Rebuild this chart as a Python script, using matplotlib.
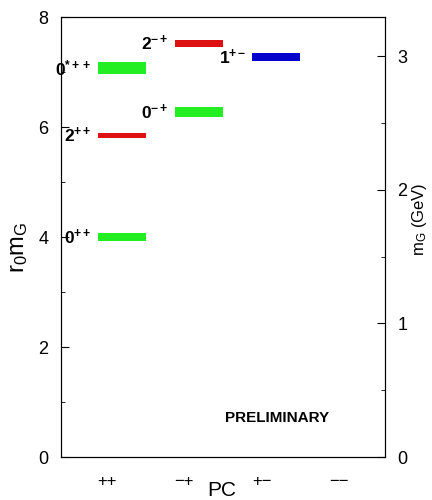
import matplotlib
matplotlib.use("Agg")
import matplotlib.pyplot as plt
from matplotlib.ticker import MultipleLocator

# ------------------------------------------------------------
# glueball spectrum data (r0 * mG)
# ------------------------------------------------------------
pc_labels = ["++", "\u2212+", "+\u2212", "\u2212\u2212"]

state_labels = [r"$\mathbf{0}^{\mathbf{++}}$", r"$\mathbf{2}^{\mathbf{++}}$",
                r"$\mathbf{0}^{\mathbf{*++}}$", r"$\mathbf{0}^{\mathbf{-+}}$",
                r"$\mathbf{2}^{\mathbf{-+}}$", r"$\mathbf{1}^{\mathbf{+-}}$"]
state_pc = [1, 1, 1, 2, 2, 3]
state_mass = [4.00, 5.85, 7.07, 6.27, 7.52, 7.27]
state_err = [0.065, 0.045, 0.11, 0.09, 0.065, 0.075]
state_color = ["#22ee22", "#dd1111", "#22ee22", "#22ee22", "#dd1111", "#0000cc"]

r0_per_gev = 2.43   # r0 mG = r0_per_gev * mG[GeV]

plt.rcParams["font.family"] = ["Liberation Sans", "DejaVu Sans"]
plt.rcParams["mathtext.fontset"] = "custom"
plt.rcParams["mathtext.rm"] = "Liberation Sans"
plt.rcParams["mathtext.it"] = "Liberation Sans"
plt.rcParams["mathtext.bf"] = "Liberation Sans:bold"

fig = plt.figure(figsize=(4.32, 5.0), dpi=100)
ax = fig.add_axes([61 / 432, 43 / 500, 324 / 432, 440 / 500])

bar_off = -0.12
bar_w = 0.62
for lab, x, m, e, c in zip(state_labels, state_pc, state_mass, state_err, state_color):
    ax.bar(x + bar_off, 2 * e, bottom=m - e, width=bar_w, align="edge",
           color=c, edgecolor="none")
    ax.text(x + bar_off - 0.08, m, lab, ha="right", va="center", fontsize=12.5)

ax.set_xlim(0.4, 4.6)
ax.set_ylim(0, 8)
ax.set_xticks(range(1, 5))
ax.set_xticklabels(pc_labels, fontsize=12)
ax.tick_params(axis="x", length=0, pad=12)
ax.yaxis.set_major_locator(MultipleLocator(2))
ax.yaxis.set_minor_locator(MultipleLocator(1))
ax.tick_params(axis="y", which="both", direction="in", labelsize=13, pad=9)
ax.tick_params(axis="y", which="major", length=6)
ax.tick_params(axis="y", which="minor", length=3)
ax.set_ylabel(r"$\mathrm{r_0m_G}$", fontsize=17)
ax.yaxis.set_label_coords(-0.13, 0.477)
ax.yaxis.label.set_va("center")
ax.set_xlabel("PC", fontsize=15)
ax.xaxis.set_label_coords((222 - 61) / 324, -0.075)
ax.xaxis.label.set_va("center")

ax2 = ax.twinx()
ax2.set_ylim(0, 8 / r0_per_gev)
ax2.yaxis.set_major_locator(MultipleLocator(1))
ax2.yaxis.set_minor_locator(MultipleLocator(0.5))
ax2.tick_params(axis="y", which="both", direction="in", labelsize=13, pad=9)
ax2.tick_params(axis="y", which="major", length=6)
ax2.tick_params(axis="y", which="minor", length=3)
ax2.set_ylabel(r"m$_\mathrm{G}$ (GeV)", fontsize=12)
ax2.yaxis.set_label_coords(1.108, 0.541)
ax2.yaxis.label.set_va("center")

ax.text(3.2, 0.7, "PRELIMINARY", ha="center", va="center",
        fontsize=11, fontweight="bold")

fig.savefig("out.png", dpi=100)
